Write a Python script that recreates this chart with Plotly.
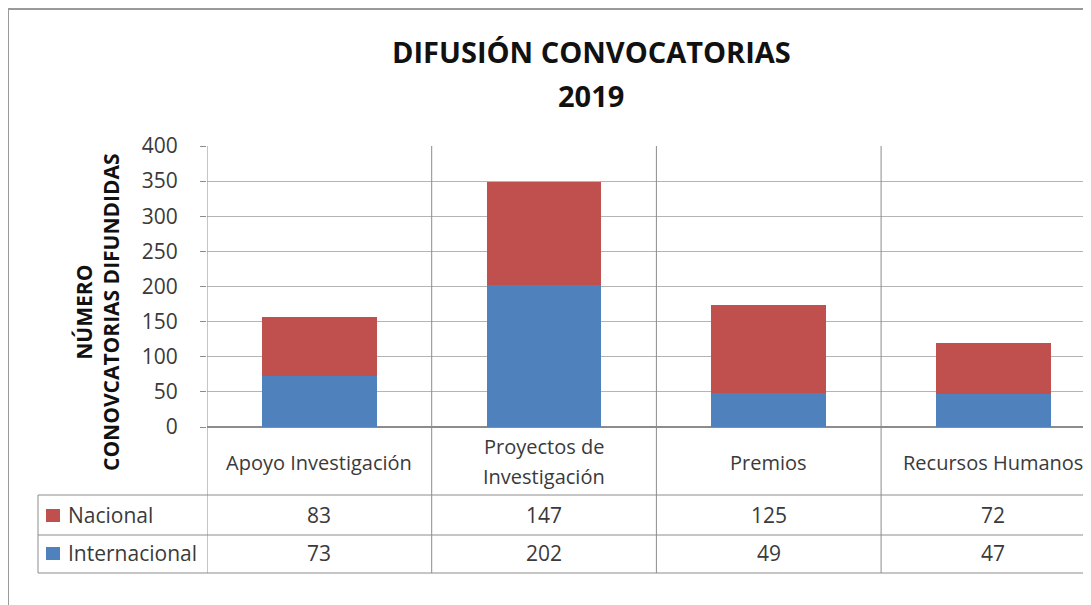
import plotly.graph_objects as go

categories = ["Apoyo Investigación", "Proyectos de<br>Investigación", "Premios", "Recursos Humanos"]
internacional = [73, 202, 49, 47]
nacional = [83, 147, 125, 72]

BLUE = "#4F81BD"
RED = "#C0504D"
LINE = "#8c8c8c"
GRID = "#b4b4b4"
TXT = "#3a3a3a"
FONT = "Open Sans"

# page body has an 8px margin, so work in window pixels and shift
OFF = 8
W, H = 1091 - OFF, 605 - OFF
L, T, B = 207, 146, 427
PW = 1091 - L
PH = B - T
COL = 224.7
x_end = -0.5 + PW / COL


def py(p):
    # window pixel row -> paper y
    return (B - p) / PH


def px(p):
    # window pixel column -> paper x
    return (p - L) / PW


xs = list(range(len(categories)))

fig = go.Figure()
fig.add_trace(go.Bar(x=xs, y=internacional, name="Internacional", marker_color=BLUE,
                     width=0.51, marker_line_width=0))
fig.add_trace(go.Bar(x=xs, y=nacional, name="Nacional", marker_color=RED,
                     width=0.51, marker_line_width=0))

shapes = []
# vertical column separators (plot + table)
for v in [-0.5, 0.5, 1.5, 2.5]:
    shapes.append(dict(type="line", xref="x", yref="paper", x0=v, x1=v,
                       y0=1, y1=py(573), line=dict(color=LINE, width=1)))
# table horizontal lines
for row in [495, 535, 573]:
    shapes.append(dict(type="line", xref="paper", yref="paper", x0=px(38), x1=px(1100),
                       y0=py(row), y1=py(row), line=dict(color=LINE, width=1)))
shapes.append(dict(type="line", xref="paper", yref="paper", x0=px(38), x1=px(38),
                   y0=py(495), y1=py(573), line=dict(color=LINE, width=1)))
# outer chart frame
shapes.append(dict(type="line", xref="paper", yref="paper", x0=px(8), x1=px(1100),
                   y0=py(9), y1=py(9), line=dict(color="#9a9a9a", width=2)))
shapes.append(dict(type="line", xref="paper", yref="paper", x0=px(8), x1=px(8),
                   y0=py(9), y1=py(620), line=dict(color="#9a9a9a", width=2)))
# legend keys in the table
for color, row in [(RED, 515), (BLUE, 553)]:
    shapes.append(dict(type="rect", xref="paper", yref="paper", x0=px(46), x1=px(60),
                       y0=py(row - 6), y1=py(row + 7), fillcolor=color, line_width=0))


def label(x, y, text, size=21, xref="x", xanchor="center", color=TXT, **kw):
    return dict(x=x, y=y, xref=xref, yref="paper", text=text, showarrow=False,
                xanchor=xanchor, yanchor="middle", font=dict(family=FONT, size=size, color=color), **kw)


annotations = []
for i, c in enumerate(categories):
    lines = c.split("<br>")
    if len(lines) == 1:
        annotations.append(label(i, py(462), c, size=20))
    else:
        annotations.append(label(i, py(446), lines[0], size=20))
        annotations.append(label(i, py(476), lines[1], size=20))
    annotations.append(label(i, py(515), str(nacional[i])))
    annotations.append(label(i, py(553), str(internacional[i])))
for name, row in [("Nacional", 515), ("Internacional", 553)]:
    annotations.append(label(px(66), py(row), name, xref="paper", xanchor="left"))
annotations.append(label(px(97), py(312), "<b>NÚMERO<br>CONOVCATORIAS DIFUNDIDAS</b>",
                         size=21, xref="paper", color="#111", textangle=-90))
annotations.append(label(px(591), py(52), "<b>DIFUSIÓN CONVOCATORIAS</b>",
                         size=29, xref="paper", color="#111"))
annotations.append(label(px(591), py(95), "<b>2019</b>",
                         size=29, xref="paper", color="#111"))

fig.update_layout(
    width=W, height=H,
    margin=dict(l=L - OFF, r=0, t=T - OFF, b=H - (B - OFF)),
    barmode="stack",
    showlegend=False,
    plot_bgcolor="white",
    paper_bgcolor="white",
    shapes=shapes,
    annotations=annotations,
)
fig.update_xaxes(range=[-0.5, x_end], showticklabels=False, showgrid=False,
                 zeroline=False, showline=False, ticks="")
fig.update_yaxes(range=[0, 400], dtick=50, showgrid=True, gridcolor=GRID, gridwidth=1,
                 zeroline=True, zerolinecolor=LINE, ticks="outside", ticklen=6, tickcolor=LINE,
                 ticklabelstandoff=18, showline=False,
                 tickfont=dict(family=FONT, size=21, color=TXT))

fig.write_html("out.html")
